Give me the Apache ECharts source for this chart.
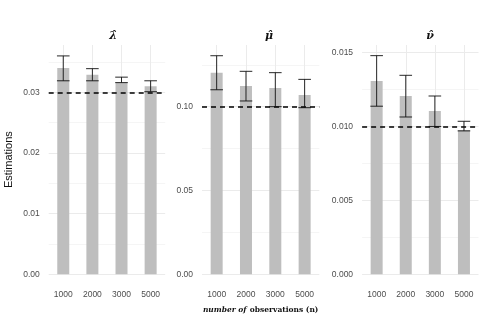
<!DOCTYPE html>
<html>
<head>
<meta charset="utf-8">
<script src="https://cdn.jsdelivr.net/npm/echarts@6/dist/echarts.min.js"></script>
<style>html,body{margin:0;padding:0;background:#fff;}#c{width:492px;height:318px;}</style>
</head>
<body>
<div id="c"></div>
<script>
var categories = ['1000', '2000', '3000', '5000'];
var panelTitles = ['\u03BB\u0302', '\u03BC\u0302', '\u03BD\u0302'];
var lambdaEst  = [0.0340, 0.0329, 0.0316, 0.0310];
var lambdaLow  = [0.0319, 0.0319, 0.0316, 0.0301];
var lambdaHigh = [0.0360, 0.0339, 0.0325, 0.0319];
var muEst  = [0.1203, 0.1123, 0.1112, 0.1070];
var muLow  = [0.1101, 0.1034, 0.1000, 0.0994];
var muHigh = [0.1304, 0.1211, 0.1203, 0.1163];
var nuEst  = [0.01308, 0.01206, 0.01105, 0.00976];
var nuLow  = [0.01137, 0.01064, 0.01000, 0.00970];
var nuHigh = [0.01479, 0.01346, 0.01206, 0.01035];
var trueValues = [0.03, 0.10, 0.01];
var yMax = [0.0378, 0.1368, 0.01551];
var yMinorStep = [0.005, 0.025, 0.0025];
var yMajorStep = [0.01, 0.05, 0.005];
var yDecimals = [2, 2, 3];

var estList = [lambdaEst, muEst, nuEst];
var lowList = [lambdaLow, muLow, nuLow];
var highList = [lambdaHigh, muHigh, nuHigh];

var gridLefts = [48.7, 202, 362.1];
var gridWidths = [116.5, 117.3, 116.4];
var titleX = [108, 264, 425];

function splitColors(idx) {
  var n = Math.floor(yMax[idx] / yMinorStep[idx] + 1e-9) + 1;
  var cols = [];
  for (var j = 0; j < n; j++) cols.push(j % 2 === 0 ? '#ebebeb' : '#f5f5f5');
  cols.push('rgba(255,255,255,0)');
  return cols;
}

var chart = echarts.init(document.getElementById('c'), null, {renderer: 'canvas'});

var grids = [], xAxes = [], yAxes = [], series = [], titles = [];
for (var i = 0; i < 3; i++) {
  grids.push({left: gridLefts[i], width: gridWidths[i], top: 45, height: 229.3, containLabel: false, outerBoundsMode: 'none'});
  titles.push({
    text: panelTitles[i], left: titleX[i], top: 26, textAlign: 'center',
    textStyle: {fontFamily: 'DejaVu Serif', fontStyle: 'italic', fontWeight: 'bold', fontSize: 11, color: '#111'}
  });
  var xa = {
    type: 'category', gridIndex: i, data: categories,
    axisLine: {show: false}, axisTick: {show: false},
    axisLabel: {color: '#4d4d4d', fontSize: 8.5, fontFamily: 'Liberation Sans', margin: 16},
    splitLine: {show: true, alignWithLabel: true, lineStyle: {color: '#ebebeb', width: 1}}
  };
  if (i === 1) {
    xa.name = '{it|number of} {b|observations (n)}';
    xa.nameLocation = 'middle';
    xa.nameGap = 29;
    xa.nameTextStyle = {
      rich: {
        it: {fontFamily: 'DejaVu Serif', fontStyle: 'italic', fontWeight: 'bold', fontSize: 7.5, color: '#111'},
        b: {fontFamily: 'DejaVu Serif', fontWeight: 'bold', fontSize: 7.5, color: '#111'}
      }
    };
  }
  xAxes.push(xa);
  (function (idx) {
    var ya = {
      type: 'value', gridIndex: idx, min: 0, max: yMax[idx], interval: yMinorStep[idx],
      axisLine: {show: false}, axisTick: {show: false},
      axisLabel: {
        color: '#4d4d4d', fontSize: 8.5, fontFamily: 'Liberation Sans', margin: 9,
        showMaxLabel: false,
        formatter: function (v) {
          var r = v / yMajorStep[idx];
          if (Math.abs(r - Math.round(r)) < 1e-6) return v.toFixed(yDecimals[idx]);
          return '';
        }
      },
      splitLine: {show: true, lineStyle: {color: splitColors(idx), width: 1}}
    };
    if (idx === 0) {
      ya.name = 'Estimations';
      ya.nameLocation = 'middle';
      ya.nameGap = 34;
      ya.nameTextStyle = {fontFamily: 'Liberation Sans', fontSize: 11, color: '#111'};
    }
    yAxes.push(ya);
  })(i);

  series.push({
    type: 'bar', xAxisIndex: i, yAxisIndex: i, data: estList[i], barWidth: 12,
    itemStyle: {color: '#bebebe'}, silent: true,
    markLine: {
      silent: true, symbol: ['none', 'none'], label: {show: false},
      lineStyle: {color: '#000', type: [5, 4], width: 1.6},
      data: [{yAxis: trueValues[i]}]
    }
  });
  var errData = [];
  for (var k = 0; k < categories.length; k++) errData.push([k, lowList[i][k], highList[i][k]]);
  series.push({
    type: 'custom', xAxisIndex: i, yAxisIndex: i, data: errData, silent: true, z: 5,
    encode: {x: 0, y: [1, 2]},
    renderItem: function (params, api) {
      var lo = api.coord([api.value(0), api.value(1)]);
      var hi = api.coord([api.value(0), api.value(2)]);
      var hw = 6.3;
      var st = {stroke: '#111', lineWidth: 1, opacity: 0.9};
      return {
        type: 'group',
        children: [
          {type: 'line', shape: {x1: lo[0], y1: lo[1], x2: hi[0], y2: hi[1]}, style: st},
          {type: 'line', shape: {x1: lo[0] - hw, y1: lo[1], x2: lo[0] + hw, y2: lo[1]}, style: st},
          {type: 'line', shape: {x1: hi[0] - hw, y1: hi[1], x2: hi[0] + hw, y2: hi[1]}, style: st}
        ]
      };
    }
  });
}

chart.setOption({
  animation: false,
  backgroundColor: '#ffffff',
  title: titles,
  grid: grids,
  xAxis: xAxes,
  yAxis: yAxes,
  series: series
});
</script>
</body>
</html>
